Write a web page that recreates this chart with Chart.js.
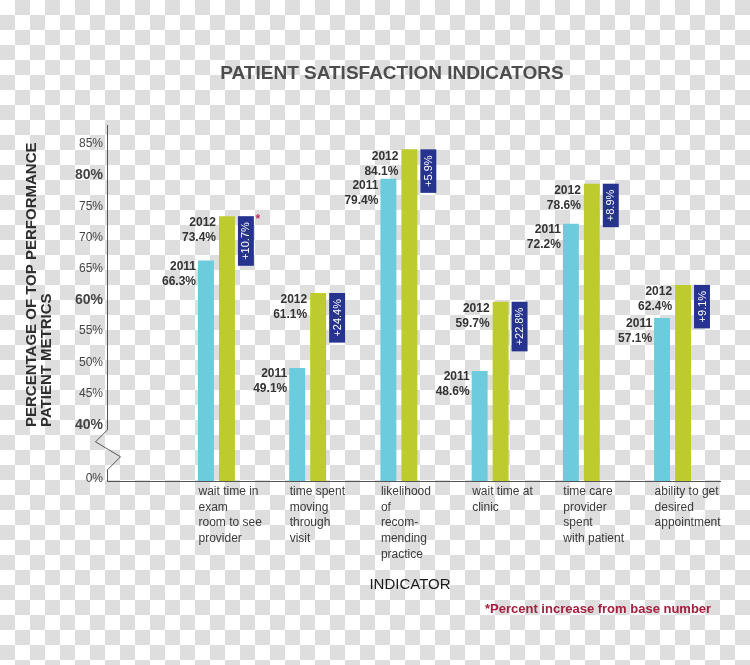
<!DOCTYPE html>
<html>
<head>
<meta charset="utf-8">
<script src="https://cdn.jsdelivr.net/npm/chart.js@4.4.1/dist/chart.umd.min.js"></script>
<style>
  html, body { margin: 0; padding: 0; }
  body {
    width: 750px; height: 665px; overflow: hidden;
    background: repeating-conic-gradient(#dedede 0 25%, #ffffff 0 50%) 0 0 / 30px 30px;
  }
  canvas { display: block; }
</style>
</head>
<body>
<canvas id="chart" width="750" height="665"></canvas>
<script>
// data
const categories = [
  ['wait time in', 'exam', 'room to see', 'provider'],
  ['time spent', 'moving', 'through', 'visit'],
  ['likelihood', 'of', 'recom-', 'mending', 'practice'],
  ['wait time at', 'clinic'],
  ['time care', 'provider', 'spent', 'with patient'],
  ['ability to get', 'desired', 'appointment']
];
const values2011 = [66.3, 49.1, 79.4, 48.6, 72.2, 57.1];
const values2012 = [73.4, 61.1, 84.1, 59.7, 78.6, 62.4];
const increases = ['+10.7%', '+24.4%', '+5.9%', '+22.8%', '+8.9%', '+9.1%'];
const yTickValues = [40, 45, 50, 55, 60, 65, 70, 75, 80, 85];
const boldTicks = [40, 60, 80];

const BREAK_VALUE = 31.4;   // where the "0%" tick sits below the axis break
const FONT = '"Liberation Sans", Arial, sans-serif';

// helper for text
function text(ctx, str, x, y, font, color, align) {
  ctx.font = font;
  ctx.fillStyle = color;
  ctx.textAlign = align || 'left';
  ctx.textBaseline = 'middle';
  ctx.fillText(str, x, y);
}

const decorPlugin = {
  id: 'decor',
  afterDraw(chart) {
    const ctx = chart.ctx;
    const area = chart.chartArea;
    const ys = chart.scales.y;
    const x0 = Math.round(area.left) + 0.5;

    ctx.save();
    // y axis line with the break zigzag
    const b = ys.getPixelForValue(40) + 5;
    ctx.strokeStyle = '#555';
    ctx.lineWidth = 1;
    ctx.beginPath();
    ctx.moveTo(x0, area.top);
    ctx.lineTo(x0, b);
    ctx.lineTo(x0 - 12, b + 12);
    ctx.lineTo(x0 + 13, b + 27);
    ctx.lineTo(x0, b + 40);
    ctx.lineTo(x0, area.bottom);
    ctx.stroke();

    // titles
    text(ctx, 'PATIENT SATISFACTION INDICATORS', 392, 74, 'bold 19px ' + FONT, '#4d4d4d', 'center');
    text(ctx, 'INDICATOR', 410, 585, '15px ' + FONT, '#1a1a1a', 'center');
    text(ctx, '*Percent increase from base number', 485, 609, 'bold 13px ' + FONT, '#a3203f', 'left');

    ctx.save();
    ctx.translate(32, 427);
    ctx.rotate(-Math.PI / 2);
    text(ctx, 'PERCENTAGE OF TOP PERFORMANCE', 0, 0, 'bold 15px ' + FONT, '#2e2e2e', 'left');
    text(ctx, 'PATIENT METRICS', 0, 15, 'bold 15px ' + FONT, '#2e2e2e', 'left');
    ctx.restore();

    // value labels and increase boxes
    const bars11 = chart.getDatasetMeta(0).data;
    const bars12 = chart.getDatasetMeta(1).data;
    const lblFont = 'bold 12px ' + FONT;
    for (let i = 0; i < categories.length; i++) {
      const a = bars11[i], g = bars12[i];
      // 2012 label left of the green bar
      const gx = g.x - g.width / 2 - 3;
      text(ctx, '2012', gx, g.y + 7, lblFont, '#333', 'right');
      text(ctx, values2012[i].toFixed(1) + '%', gx, g.y + 22, lblFont, '#333', 'right');
      // 2011 label left of the cyan bar, pushed down if it hits the 2012 label
      const ax = a.x - a.width / 2 - 2;
      const ay = Math.max(a.y + 6, g.y + 36);
      text(ctx, '2011', ax, ay, lblFont, '#333', 'right');
      text(ctx, values2011[i].toFixed(1) + '%', ax, ay + 15, lblFont, '#333', 'right');

      // blue box with the increase
      ctx.font = '11px ' + FONT;
      const tw = ctx.measureText(increases[i]).width;
      const bw = g.width;
      const bh = tw + 12;
      const bx = g.x + g.width / 2 + 3;
      ctx.fillStyle = '#27348f';
      ctx.fillRect(bx, g.y, bw, bh);
      ctx.save();
      ctx.translate(bx + bw / 2, g.y + bh / 2);
      ctx.rotate(-Math.PI / 2);
      text(ctx, increases[i], 0, 0.5, '11px ' + FONT, '#ffffff', 'center');
      ctx.restore();
      if (i === 0) {
        text(ctx, '*', bx + bw + 4, g.y + 4, 'bold 12px ' + FONT, '#c2306a', 'center');
      }
    }
    ctx.restore();
  }
};

const chart = new Chart(document.getElementById('chart'), {
  type: 'bar',
  data: {
    datasets: [
      {
        label: '2011',
        data: values2011.map((v, i) => ({ x: i, y: v })),
        backgroundColor: '#6ccbdc',
        borderWidth: 0
      },
      {
        label: '2012',
        data: values2012.map((v, i) => ({ x: i, y: v })),
        backgroundColor: '#bdcc2c',
        borderWidth: 0
      }
    ]
  },
  options: {
    responsive: false,
    animation: false,
    devicePixelRatio: 1,
    categoryPercentage: 0.46,
    barPercentage: 0.76,
    layout: { padding: { top: 125, right: 30, left: 0, bottom: 0 } },
    plugins: {
      legend: { display: false },
      tooltip: { enabled: false }
    },
    scales: {
      x: {
        type: 'linear',
        min: -1.2,
        max: 5.52,
        offset: false,
        grid: { display: false, drawTicks: false, offset: false },
        border: { display: true, color: '#555', width: 1 },
        afterBuildTicks: scale => {
          scale.ticks = categories.map((c, i) => ({ value: i }));
        },
        afterFit: scale => {
          scale.height = 184;
          scale.paddingLeft = 0;
          scale.paddingRight = 0;
        },
        ticks: {
          align: 'start',
          labelOffset: -18,
          padding: 3,
          maxRotation: 0,
          autoSkip: false,
          color: '#3a3a3a',
          font: { family: FONT, size: 12, lineHeight: 1.3 },
          callback: value => categories[value]
        }
      },
      y: {
        min: 31,
        max: 88,
        grid: { display: false, drawTicks: false },
        border: { display: false },
        afterBuildTicks: scale => {
          scale.ticks = [{ value: BREAK_VALUE }].concat(yTickValues.map(v => ({ value: v })));
        },
        afterFit: scale => {
          scale.width = 107;
          scale.paddingTop = 0;
          scale.paddingBottom = 0;
        },
        ticks: {
          padding: 4,
          color: '#444',
          font: ctx => boldTicks.includes(ctx.tick && ctx.tick.value)
            ? { family: FONT, size: 14, weight: 'bold' }
            : { family: FONT, size: 12 },
          callback: value => value === BREAK_VALUE ? '0%' : value + '%'
        }
      }
    }
  },
  plugins: [decorPlugin]
});
</script>
</body>
</html>
